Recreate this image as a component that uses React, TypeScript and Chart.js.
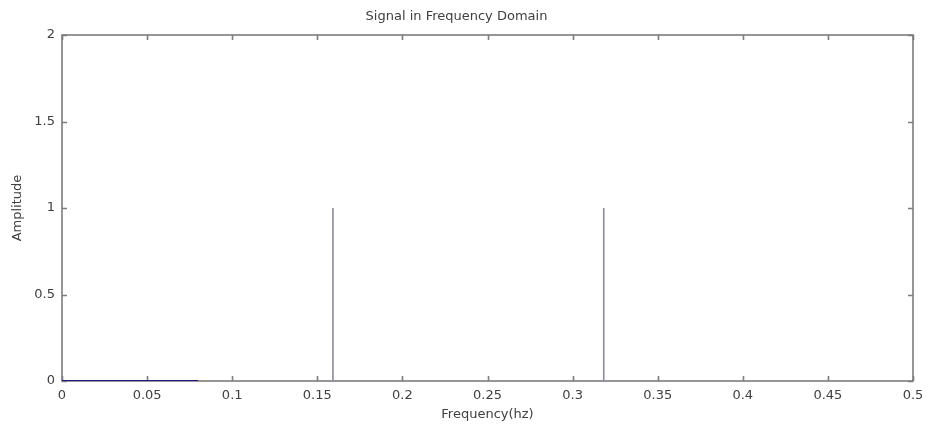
import React, { useEffect, useRef } from "react";
import { Chart, registerables } from "chart.js";

Chart.register(...registerables);

const TITLE = "Signal in Frequency Domain";
const X_LABEL = "Frequency(hz)";
const Y_LABEL = "Amplitude";

// Low-frequency baseline segment (blue)
const baseFreq = [0, 0.08];
const baseAmp = [0, 0];

// Spectral spikes (stems)
const spikeFreq = [0.1592, 0.3183];
const spikeAmp = [1, 1];

const X_MIN = 0;
const X_MAX = 0.5;
const X_STEP = 0.05;
const Y_MIN = 0;
const Y_MAX = 2;
const Y_STEP = 0.5;

const fmt = (v: number) => String(parseFloat(Number(v).toFixed(2)));

const framePlugin = {
  id: "matlabFrame",
  beforeDatasetsDraw(chart: any) {
    const { ctx, chartArea } = chart;
    const { left, right, top, bottom } = chartArea;
    ctx.save();
    ctx.strokeStyle = "#7c7c7c";
    ctx.lineWidth = 1.6;
    ctx.strokeRect(left, top, right - left, bottom - top);
    const len = 5;
    ctx.beginPath();
    const xs = chart.scales.x;
    xs.ticks.forEach((t: any) => {
      const px = Math.round(xs.getPixelForValue(t.value)) + 0.5;
      ctx.moveTo(px, bottom);
      ctx.lineTo(px, bottom - len);
      ctx.moveTo(px, top);
      ctx.lineTo(px, top + len);
    });
    const ys = chart.scales.y;
    ys.ticks.forEach((t: any) => {
      const py = Math.round(ys.getPixelForValue(t.value)) + 0.5;
      ctx.moveTo(left, py);
      ctx.lineTo(left + len, py);
      ctx.moveTo(right, py);
      ctx.lineTo(right - len, py);
    });
    ctx.stroke();
    ctx.restore();
  },
};

export default function App() {
  const ref = useRef<HTMLCanvasElement | null>(null);

  useEffect(() => {
    document.body.style.margin = "0";
    const canvas = ref.current;
    if (!canvas) return;

    const baseData = baseFreq.map((f, i) => ({ x: f, y: baseAmp[i] }));
    const spikeData: any[] = [];
    spikeFreq.forEach((f, i) => {
      if (i > 0) spikeData.push({ x: f, y: null });
      spikeData.push({ x: f, y: 0 });
      spikeData.push({ x: f, y: spikeAmp[i] });
    });

    const font = { family: "'DejaVu Sans', Arial, sans-serif", size: 13 };
    const textColor = "#404040";

    const chart = new Chart(canvas, {
      type: "line",
      data: {
        datasets: [
          {
            data: spikeData,
            borderColor: "#8a8aa2",
            borderWidth: 1.6,
            pointRadius: 0,
            spanGaps: false,
            tension: 0,
          },
          {
            data: baseData,
            borderColor: "#1a1a80",
            borderWidth: 2.2,
            pointRadius: 0,
            tension: 0,
          },
        ],
      },
      options: {
        animation: false,
        responsive: false,
        maintainAspectRatio: false,
        layout: { padding: { left: 0, right: 15, top: 0, bottom: 0 } },
        plugins: {
          legend: { display: false },
          tooltip: { enabled: false },
          title: {
            display: true,
            text: TITLE,
            color: textColor,
            font: { ...font, weight: "normal" },
            padding: { top: 9.2, bottom: 10.2 },
          },
        },
        scales: {
          x: {
            type: "linear",
            min: X_MIN,
            max: X_MAX,
            grid: { display: false, drawTicks: false },
            border: { display: false },
            ticks: {
              stepSize: X_STEP,
              color: textColor,
              font,
              padding: 7,
              maxRotation: 0,
              autoSkip: false,
              callback: (v: any) => fmt(v),
            },
            title: {
              display: true,
              text: X_LABEL,
              color: textColor,
              font,
              padding: { top: 0, bottom: 7 },
            },
            afterFit: (s: any) => {
              s.height = 48;
              s.paddingRight = 0;
              s.paddingLeft = 0;
            },
          },
          y: {
            type: "linear",
            min: Y_MIN,
            max: Y_MAX,
            grid: { display: false, drawTicks: false },
            border: { display: false },
            ticks: {
              stepSize: Y_STEP,
              color: textColor,
              font,
              padding: 7,
              callback: (v: any) => fmt(v),
            },
            title: {
              display: true,
              text: Y_LABEL,
              color: textColor,
              font,
              padding: { top: 10, bottom: 0 },
            },
            afterFit: (s: any) => {
              s.width = 62;
            },
          },
        },
      },
      plugins: [framePlugin],
    });

    return () => chart.destroy();
  }, []);

  return (
    <div style={{ width: 928, height: 429, background: "#ffffff" }}>
      <canvas ref={ref} width={928} height={429} style={{ display: "block" }} />
    </div>
  );
}
